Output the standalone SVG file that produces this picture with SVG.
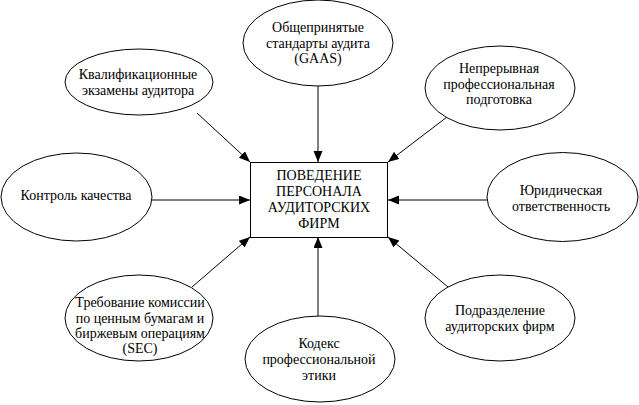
<svg xmlns="http://www.w3.org/2000/svg" width="639" height="405" viewBox="0 0 639 405">
<style>
.n{fill:#fff;stroke:#000;stroke-width:1}
.t{font-family:"Liberation Serif","Times New Roman",serif;font-size:14px;fill:#000;text-anchor:middle}
.c line{stroke:#000;stroke-width:1}
</style>
<defs>
<marker id="ah" markerUnits="userSpaceOnUse" markerWidth="12" markerHeight="10" refX="11" refY="4.5" orient="auto">
<path d="M0,0 L11,4.5 L0,9 z" fill="#000"/>
</marker>
</defs>
<rect width="639" height="405" fill="#fff"/>
<g class="c" id="connectors">
<line x1="197" y1="113" x2="250" y2="162" marker-end="url(#ah)"/>
<line x1="318" y1="86" x2="318" y2="162" marker-end="url(#ah)"/>
<line x1="447" y1="117" x2="388" y2="162" marker-end="url(#ah)"/>
<line x1="152" y1="200" x2="250" y2="200" marker-end="url(#ah)"/>
<line x1="487" y1="200" x2="388" y2="200" marker-end="url(#ah)"/>
<line x1="192" y1="287" x2="250" y2="237" marker-end="url(#ah)"/>
<line x1="318" y1="316" x2="318" y2="237" marker-end="url(#ah)"/>
<line x1="448" y1="287" x2="388" y2="237" marker-end="url(#ah)"/>
</g>
<g id="center">
<rect class="n" x="250.5" y="162.5" width="137" height="75"/>
<text class="t" x="319" y="180">ПОВЕДЕНИЕ</text>
<text class="t" x="319" y="196">ПЕРСОНАЛА</text>
<text class="t" x="319" y="212">АУДИТОРСКИХ</text>
<text class="t" x="319" y="228">ФИРМ</text>
</g>
<g id="gaas">
<ellipse class="n" cx="318" cy="43" rx="75" ry="43"/>
<text class="t" x="318" y="32">Общепринятые</text>
<text class="t" x="318" y="48">стандарты аудита</text>
<text class="t" x="318" y="63">(GAAS)</text>
</g>
<g id="kval">
<ellipse class="n" cx="139" cy="82" rx="74" ry="33"/>
<text class="t" x="138" y="79">Квалификационные</text>
<text class="t" x="138" y="95">экзамены аудитора</text>
</g>
<g id="nepr">
<ellipse class="n" cx="500" cy="88" rx="75" ry="42"/>
<text class="t" x="499" y="73">Непрерывная</text>
<text class="t" x="499" y="89">профессиональная</text>
<text class="t" x="499" y="104">подготовка</text>
</g>
<g id="kontrol">
<ellipse class="n" cx="76.5" cy="197" rx="75.5" ry="44"/>
<text class="t" x="76" y="200">Контроль качества</text>
</g>
<g id="yur">
<ellipse class="n" cx="562.5" cy="197" rx="75.5" ry="44.5"/>
<text class="t" x="561" y="195">Юридическая</text>
<text class="t" x="561" y="211">ответственность</text>
</g>
<g id="sec">
<ellipse class="n" cx="139" cy="318" rx="74" ry="43"/>
<text class="t" x="140" y="307">Требование комиссии</text>
<text class="t" x="140" y="323">по ценным бумагам и</text>
<text class="t" x="140" y="338">биржевым операциям</text>
<text class="t" x="140" y="353">(SEC)</text>
</g>
<g id="kodeks">
<ellipse class="n" cx="320" cy="359" rx="75" ry="43"/>
<text class="t" x="319" y="348">Кодекс</text>
<text class="t" x="319" y="364">профессиональной</text>
<text class="t" x="319" y="380">этики</text>
</g>
<g id="podr">
<ellipse class="n" cx="500" cy="318" rx="75" ry="43"/>
<text class="t" x="500" y="315">Подразделение</text>
<text class="t" x="500" y="331">аудиторских фирм</text>
</g>
</svg>
